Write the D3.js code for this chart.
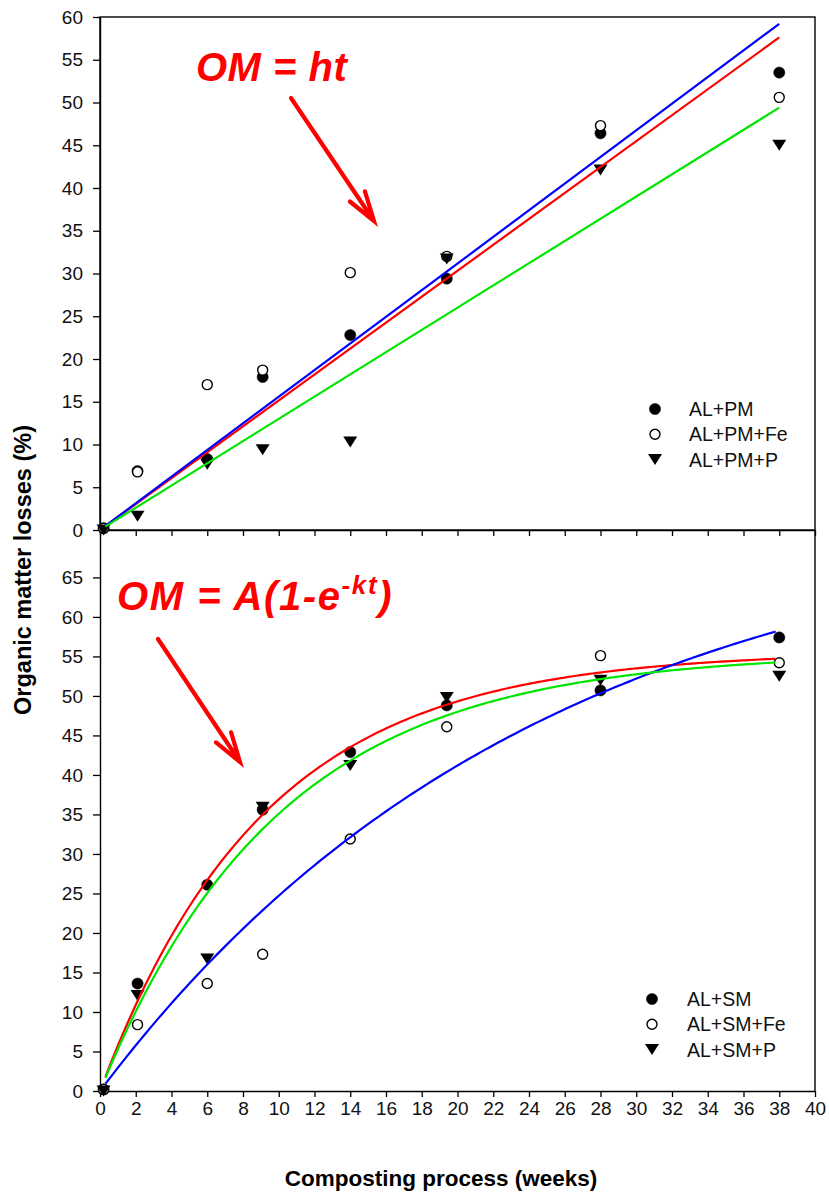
<!DOCTYPE html>
<html>
<head>
<meta charset="utf-8">
<script src="https://cdn.jsdelivr.net/npm/d3@7"></script>
<style>
  body { margin: 0; background: #fff; }
  svg { display: block; }
  text { font-family: "Liberation Sans", Arial, sans-serif; }
</style>
</head>
<body>
<svg id="chart" width="829" height="1202"></svg>
<script>
// ---------------- data ----------------
const weeks = [0.2, 2.1, 6, 9.1, 14, 19.4, 28, 38];

const topNames = ["AL+PM", "AL+PM+Fe", "AL+PM+P"];
const alPM   = [0.2, 6.9, 8.3, 17.9, 22.8, 29.4, 46.4, 53.5];
const alPMFe = [0.2, 6.8, 17.0, 18.7, 30.1, 32.0, 47.3, 50.6];
const alPMP  = [0.0, 1.6, 7.7, 9.4, 10.3, 31.7, 42.1, 45.0];
// linear fits OM = h t
const topSlopeH = [1.516, 1.558, 1.30];

const bottomNames = ["AL+SM", "AL+SM+Fe", "AL+SM+P"];
const alSM   = [0.2, 13.6, 26.1, 35.6, 42.9, 48.8, 50.7, 57.4];
const alSMFe = [0.2, 8.4, 13.6, 17.3, 31.9, 46.1, 55.1, 54.2];
const alSMP  = [0.0, 12.1, 16.7, 35.9, 41.2, 49.8, 52.0, 52.5];
// first-order fits OM = A(1 - e^(-kt))
const bottomFitA = [55.6, 74.2, 55.5];
const bottomFitK = [0.109, 0.0405, 0.100];

const fitRange = [0.3, 38];
const xTicks = d3.range(0, 41, 2);
const topYTicks = d3.range(0, 61, 5);
const bottomYTicks = d3.range(0, 66, 5);

// ---------------- layout ----------------
const svg = d3.select("#chart");
const X0 = 100, X1 = 815;
const TOP0 = 17, MID = 530, BOT = 1091;
const fitColors = ["#ff0000", "#0000ff", "#00e600"];
const markerTypes = ["filled", "open", "triangle"];

const x = d3.scaleLinear().domain([0, 40]).range([X0, X1]);
const yTop = d3.scaleLinear().domain([0, 60]).range([MID, TOP0]);
const yBot = d3.scaleLinear().domain([0, 71]).range([BOT, MID]);

function styleAxis(g) {
  g.selectAll("path.domain").attr("stroke", "#000").attr("stroke-width", 1.4);
  g.selectAll(".tick line").attr("stroke", "#000").attr("stroke-width", 1.3);
  g.selectAll(".tick text").attr("fill", "#111").style("font-size", "19px")
    .style("font-family", '"Liberation Sans", Arial, sans-serif');
}

// frames
svg.append("rect").attr("x", X0).attr("y", TOP0).attr("width", X1 - X0).attr("height", MID - TOP0)
  .attr("fill", "none").attr("stroke", "#000").attr("stroke-width", 1.4);
svg.append("line").attr("x1", X1).attr("x2", X1).attr("y1", MID).attr("y2", BOT)
  .attr("stroke", "#000").attr("stroke-width", 1.4);

// axes
svg.append("g").attr("transform", `translate(${X0},0)`)
  .call(d3.axisLeft(yTop).tickValues(topYTicks).tickSize(7).tickSizeOuter(0).tickPadding(10))
  .call(styleAxis);
svg.append("g").attr("transform", `translate(${X0},0)`)
  .call(d3.axisLeft(yBot).tickValues(bottomYTicks).tickSize(7).tickSizeOuter(0).tickPadding(10))
  .call(styleAxis);
svg.append("g").attr("transform", `translate(0,${MID})`)
  .call(d3.axisBottom(x).tickValues(xTicks).tickSize(6).tickSizeOuter(0).tickFormat(""))
  .call(styleAxis);
svg.append("g").attr("transform", `translate(0,${BOT})`)
  .call(d3.axisBottom(x).tickValues(xTicks).tickSize(6).tickSizeOuter(0).tickPadding(5))
  .call(styleAxis);

// markers
const triPath = "M-7,-5.5L7,-5.5L0,5.5Z";
function drawMarkers(g, type, xs, ys, yScale) {
  const pts = xs.map((t, i) => [t, ys[i]]);
  if (type === "triangle") {
    g.selectAll(null).data(pts).enter().append("path")
      .attr("d", triPath)
      .attr("transform", d => `translate(${x(d[0])},${yScale(d[1])})`)
      .attr("fill", "#000");
  } else {
    g.selectAll(null).data(pts).enter().append("circle")
      .attr("cx", d => x(d[0])).attr("cy", d => yScale(d[1])).attr("r", type === "open" ? 5 : 5.6)
      .attr("fill", type === "open" ? "#fff" : "#000")
      .attr("stroke", "#000").attr("stroke-width", type === "open" ? 1.4 : 0.5);
  }
}

const topData = [alPM, alPMFe, alPMP];
const botData = [alSM, alSMFe, alSMP];
const gTop = svg.append("g");
const gBot = svg.append("g");
[0, 1, 2].forEach(i => drawMarkers(gTop, markerTypes[i], weeks, topData[i], yTop));
[0, 1, 2].forEach(i => drawMarkers(gBot, markerTypes[i], weeks, botData[i], yBot));

// fit curves
const tSamples = d3.range(fitRange[0], fitRange[1] + 0.001, 0.25);
topSlopeH.forEach((h, i) => {
  const line = d3.line().x(t => x(t)).y(t => yTop(h * t));
  svg.append("path").datum(fitRange).attr("d", line)
    .attr("fill", "none").attr("stroke", fitColors[i]).attr("stroke-width", 2.2);
});
bottomFitA.forEach((A, i) => {
  const k = bottomFitK[i];
  const line = d3.line().x(t => x(t)).y(t => yBot(A * (1 - Math.exp(-k * t)))).curve(d3.curveMonotoneX);
  svg.append("path").datum(tSamples).attr("d", line)
    .attr("fill", "none").attr("stroke", fitColors[i]).attr("stroke-width", 2.2);
});

// legends
function legend(names, mx, tx, y0) {
  names.forEach((n, i) => {
    const cy = y0 + i * 25.3;
    const g = svg.append("g");
    if (markerTypes[i] === "triangle") {
      g.append("path").attr("d", triPath).attr("transform", `translate(${mx},${cy})`).attr("fill", "#000");
    } else {
      g.append("circle").attr("cx", mx).attr("cy", cy).attr("r", markerTypes[i] === "open" ? 5 : 5.6)
        .attr("fill", markerTypes[i] === "open" ? "#fff" : "#000")
        .attr("stroke", "#000").attr("stroke-width", markerTypes[i] === "open" ? 1.4 : 0.5);
    }
    g.append("text").attr("x", tx).attr("y", cy + 7).style("font-size", "19.5px").attr("fill", "#111").text(n);
  });
}
legend(topNames, 655, 689, 409);
legend(bottomNames, 652, 687, 999);

// axis titles
svg.append("text").attr("x", 441).attr("y", 1186).attr("text-anchor", "middle")
  .style("font-size", "22.5px").style("font-weight", "bold").text("Composting process (weeks)");
svg.append("text").attr("transform", "translate(31,570) rotate(-90)").attr("text-anchor", "middle")
  .style("font-size", "23.5px").style("font-weight", "bold").text("Organic matter losses (%)");

// equations
const eqStyle = s => s.attr("fill", "#ff0000").style("font-weight", "bold").style("font-style", "italic");
svg.append("text").attr("x", 196).attr("y", 81).style("font-size", "40px").style("letter-spacing", "0.5px")
  .call(eqStyle).text("OM = ht");
const eq2 = svg.append("text").attr("x", 117).attr("y", 610).style("font-size", "40px")
  .style("letter-spacing", "1.6px").call(eqStyle);
eq2.append("tspan").text("OM = A(1-e");
eq2.append("tspan").attr("dy", -16).style("font-size", "26px").text("-kt");
eq2.append("tspan").attr("dy", 16).text(")");

// arrows (pixel-space annotation)
function arrow(x1, y1, x2, y2) {
  const ang = Math.atan2(y1 - y2, x1 - x2);
  const L = 31, spread = 17 * Math.PI / 180;
  const h1 = [x2 + L * Math.cos(ang - spread), y2 + L * Math.sin(ang - spread)];
  const h2 = [x2 + L * Math.cos(ang + spread), y2 + L * Math.sin(ang + spread)];
  svg.append("path")
    .attr("d", `M${x1},${y1}L${x2},${y2}M${h1[0]},${h1[1]}L${x2},${y2}L${h2[0]},${h2[1]}`)
    .attr("fill", "none").attr("stroke", "#ff0000").attr("stroke-width", 4.2)
    .attr("stroke-linecap", "round").attr("stroke-linejoin", "miter");
}
arrow(291, 98, 374, 221);
arrow(158, 639, 240, 762);
</script>
</body>
</html>
